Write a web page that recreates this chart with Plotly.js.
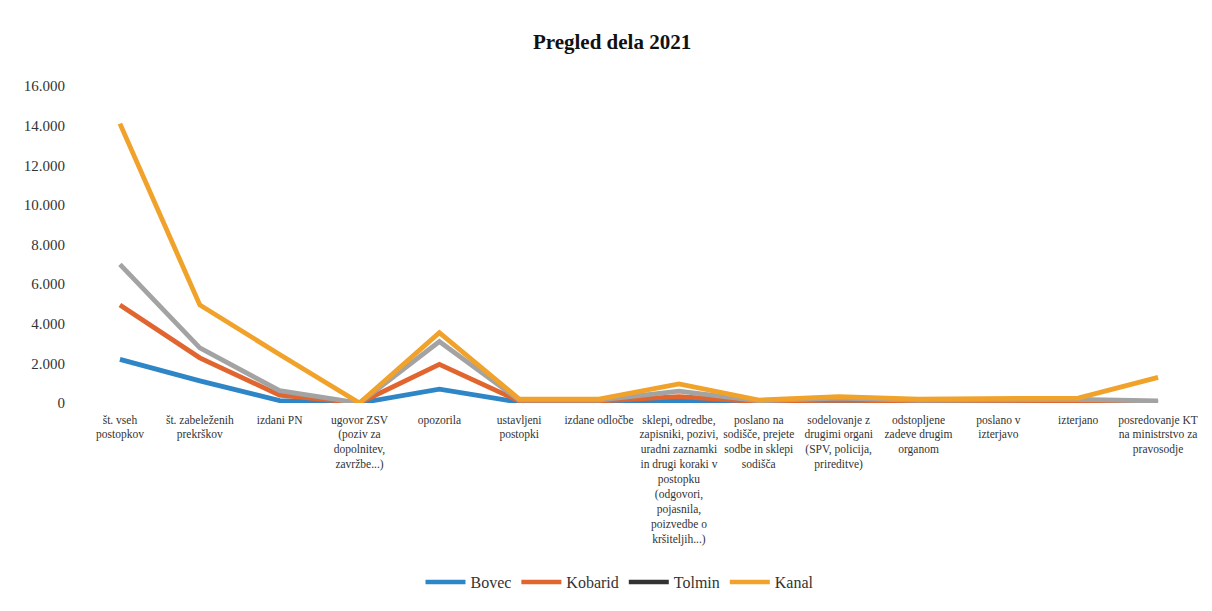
<!DOCTYPE html>
<html>
<head>
<meta charset="utf-8">
<script src="https://cdn.plot.ly/plotly-3.0.1.min.js"></script>
<style>html,body{margin:0;padding:0;background:#fff;}#chart{width:1212px;height:611px;}</style>
</head>
<body>
<div id="chart"></div>
<script>
const categories = [
  "št. vseh<br>postopkov",
  "št. zabeleženih<br>prekrškov",
  "izdani PN",
  "ugovor ZSV<br>(poziv za<br>dopolnitev,<br>zavržbe...)",
  "opozorila",
  "ustavljeni<br>postopki",
  "izdane odločbe",
  "sklepi, odredbe,<br>zapisniki, pozivi,<br>uradni zaznamki<br>in drugi koraki v<br>postopku<br>(odgovori,<br>pojasnila,<br>poizvedbe o<br>kršiteljih...)",
  "poslano na<br>sodišče, prejete<br>sodbe in sklepi<br>sodišča",
  "sodelovanje z<br>drugimi organi<br>(SPV, policija,<br>prireditve)",
  "odstopljene<br>zadeve drugim<br>organom",
  "poslano v<br>izterjavo",
  "izterjano",
  "posredovanje KT<br>na ministrstvo za<br>pravosodje"
];
const bovec   = [2200, 1120, 120, 0, 700, 40, 40, 120, 30, 60, 30, 40, 40, 20];
const kobarid = [4950, 2280, 400, 0, 1950, 100, 100, 320, 70, 150, 80, 100, 100, 40];
const tolmin  = [7000, 2780, 620, 0, 3100, 150, 150, 600, 110, 250, 130, 180, 180, 100];
const kanal   = [14100, 4950, 2450, 0, 3550, 200, 200, 960, 150, 320, 200, 250, 250, 1290];
const seriesNames = ["Bovec", "Kobarid", "Tolmin", "Kanal"];
const lineColors = ["#2f86c6", "#e0652f", "#a3a3a3", "#f0a22a"];
const legendColors = ["#2f86c6", "#e0652f", "#333333", "#f0a22a"];

const serif = "Liberation Serif";
const values = [bovec, kobarid, tolmin, kanal];
const traces = [];
values.forEach((v, i) => {
  traces.push({
    x: categories, y: v, type: "scatter", mode: "lines",
    name: seriesNames[i], showlegend: false, hoverinfo: "skip",
    line: {color: lineColors[i], width: 4.8}
  });
});
values.forEach((v, i) => {
  traces.push({
    x: categories, y: v.map(() => null), type: "scatter", mode: "lines",
    name: seriesNames[i], showlegend: true,
    line: {color: legendColors[i], width: 4.5}
  });
});

const layout = {
  width: 1212, height: 611,
  paper_bgcolor: "#ffffff", plot_bgcolor: "#ffffff",
  separators: ",.",
  font: {family: serif, color: "#333"},
  margin: {l: 80, r: 14, t: 86, b: 204},
  title: {text: "<b>Pregled dela 2021</b>", x: 0.505, xanchor: "center", y: 0.932, yanchor: "middle",
          font: {family: serif, size: 21, color: "#111"}},
  xaxis: {
    type: "category", range: [-0.5, 13.5],
    showgrid: false, zeroline: false, showline: false,
    ticks: "", tickangle: 0, automargin: false, ticklabelstandoff: 8,
    tickfont: {family: serif, size: 11.5, color: "#333"}
  },
  yaxis: {
    range: [0, 16000], dtick: 2000, tickformat: ",d",
    showgrid: false, zeroline: false, showline: false, ticks: "",
    ticklabelstandoff: 14, automargin: false,
    tickfont: {family: serif, size: 15, color: "#333"}
  },
  legend: {
    orientation: "h", x: 0.483, xanchor: "center", y: -0.565, yanchor: "middle",
    font: {family: serif, size: 16, color: "#333"},
    itemwidth: 40, tracegroupgap: 0
  },
  showlegend: true
};

Plotly.newPlot("chart", traces, layout, {displayModeBar: false, staticPlot: true});
</script>
</body>
</html>
